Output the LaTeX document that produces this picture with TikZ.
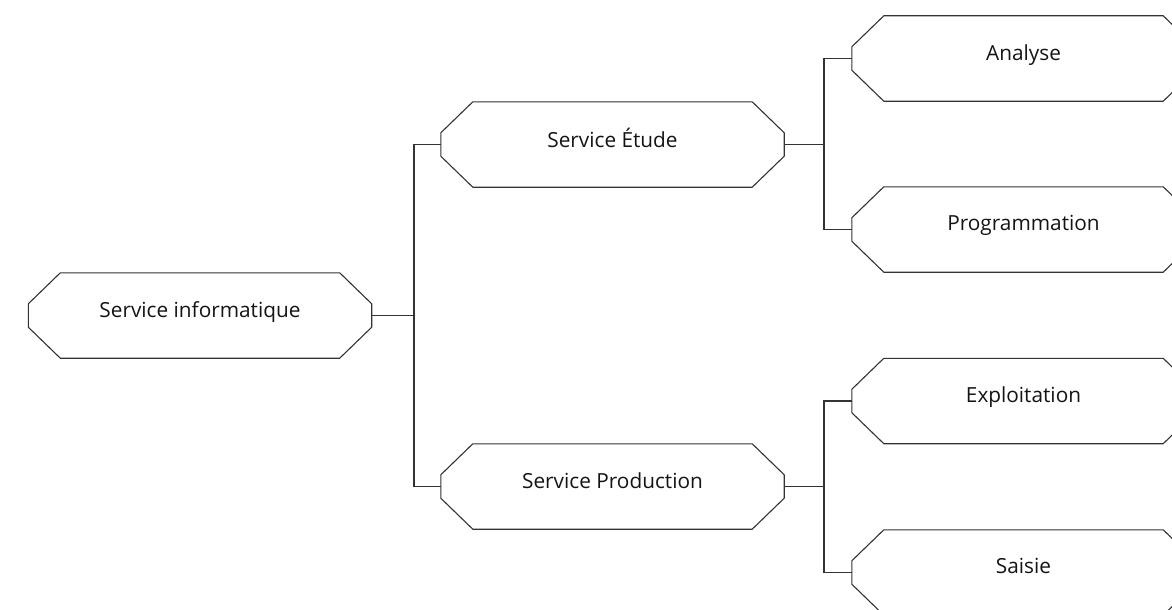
\documentclass[tikz,border=0pt]{standalone}
\usepackage{fontspec}
\setmainfont{Open Sans}
\begin{document}
\begin{tikzpicture}[x=1pt,y=-1pt,
  octbox/.style={rectangle, draw=none, minimum width=343pt, minimum height=85pt, inner sep=0pt,
    font=\fontsize{20.8}{24}\selectfont, text=black!92},
  octline/.style={draw=black!80, line width=1.1pt, line join=miter},
  conn/.style={draw=black!80, line width=1.1pt}]
\useasboundingbox (0,0) rectangle (1172,610);
\clip (0,0) rectangle (1172,610);
\newcommand\octa[1]{\draw[octline] ([xshift=32pt]#1.north west) -- ([xshift=-32pt]#1.north east) -- ([yshift=-31pt]#1.north east) -- ([yshift=31pt]#1.south east) -- ([xshift=-32pt]#1.south east) -- ([xshift=32pt]#1.south west) -- ([yshift=31pt]#1.south west) -- ([yshift=-31pt]#1.north west) -- cycle;}
\node[octbox] (si) at (200,315.5) {\raisebox{12.5pt}{Service informatique}};
\node[octbox] (se) at (612.5,144.5) {\raisebox{12.5pt}{Service Étude}};
\node[octbox] (sp) at (612.5,486.5) {\raisebox{12.5pt}{Service Production}};
\node[octbox] (an) at (1023.5,58.5) {\raisebox{12.5pt}{Analyse}};
\node[octbox] (pr) at (1023.5,229.5) {\raisebox{12.5pt}{Programmation}};
\node[octbox] (ex) at (1023.5,401) {\raisebox{12.5pt}{Exploitation}};
\node[octbox] (sa) at (1023.5,572.5) {\raisebox{12.5pt}{Saisie}};
\foreach \n in {si,se,sp,an,pr,ex,sa}{\octa{\n}}
\coordinate (b1) at (414,315.5);
\coordinate (b2) at (824,144.5);
\coordinate (b3) at (824,486.5);
\draw[conn] (si.east) -- (b1);
\draw[conn] (b1) |- (se.west);
\draw[conn] (b1) |- (sp.west);
\draw[conn] (se.east) -- (b2);
\draw[conn] (b2) |- (an.west);
\draw[conn] (b2) |- (pr.west);
\draw[conn] (sp.east) -- (b3);
\draw[conn] (b3) |- (ex.west);
\draw[conn] (b3) |- (sa.west);
\end{tikzpicture}
\end{document}
